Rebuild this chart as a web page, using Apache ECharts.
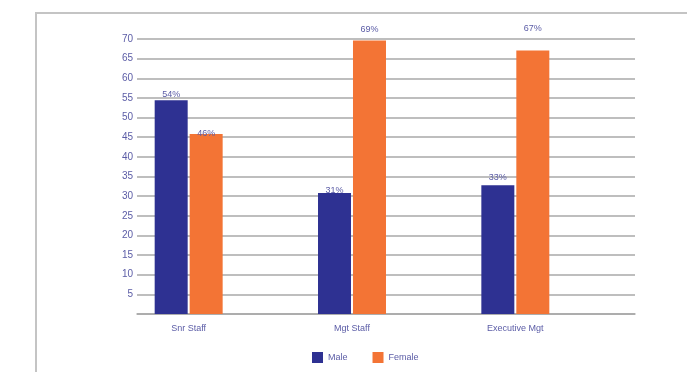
<!DOCTYPE html>
<html><head><meta charset="utf-8">
<script src="https://cdn.jsdelivr.net/npm/echarts@6/dist/echarts.min.js"></script>
<style>html,body{margin:0;padding:0;background:#fff}#c{width:687px;height:372px}</style>
</head><body><div id="c"></div>
<script>
const categories = ['Snr Staff', 'Mgt Staff', 'Executive Mgt'];
const maleValues = [54.4, 30.8, 32.8];
const femaleValues = [45.8, 69.6, 67.1];
const maleLabels = ['54%', '31%', '33%'];
const femaleLabels = ['46%', '69%', '67%'];
const seriesNames = ['Male', 'Female'];
const yTicks = [5, 10, 15, 20, 25, 30, 35, 40, 45, 50, 55, 60, 65, 70];

const txt = '#5b5ca6';
const font = '"Liberation Sans", Arial, sans-serif';
const chart = echarts.init(document.getElementById('c'), null, {renderer: 'canvas'});

function lbl(texts, off) {
  return {show: true, position: 'top', distance: 1, offset: [0, off || 0], color: txt, fontSize: 9, fontFamily: font,
    formatter: p => texts[p.dataIndex]};
}
const femaleOffsets = [5, -6, -16];
const maleOffsets = [0, 3, -2];
const femaleData = femaleValues.map((v, i) => ({value: v, label: lbl(femaleLabels, femaleOffsets[i])}));
const maleData = maleValues.map((v, i) => ({value: v, label: lbl(maleLabels, maleOffsets[i])}));

chart.setOption({
  animation: false,
  graphic: [{type: 'rect', shape: {x: 36, y: 13, width: 700, height: 400}, style: {fill: 'none', stroke: '#c4c4c4', lineWidth: 2}, z: -1}],
  grid: [
    {left: 137, right: 52, top: 39, bottom: 58},
    {left: 107, width: 490, top: 39, bottom: 58}
  ],
  xAxis: [
    {type: 'category', gridIndex: 0, data: categories, axisLabel: {show: false}, axisTick: {show: false},
      axisLine: {show: true, lineStyle: {color: '#a8a8a8', width: 1.5}}},
    {type: 'category', gridIndex: 1, data: categories, axisLine: {show: false}, axisTick: {show: false},
      axisLabel: {color: txt, fontSize: 9, fontFamily: font, margin: 10}}
  ],
  yAxis: [
    {type: 'value', gridIndex: 0, min: 0, max: 70, interval: 5,
      axisLabel: {color: txt, fontSize: 10, fontFamily: font, margin: 4,
        formatter: v => yTicks.includes(v) ? String(v) : ''},
      axisLine: {show: false}, axisTick: {show: false},
      splitLine: {show: true, lineStyle: {color: '#a8a8a8', width: 1.5}}},
    {type: 'value', gridIndex: 1, min: 0, max: 70, show: false, splitLine: {show: false}}
  ],
  legend: {top: 352, left: 312, itemWidth: 11, itemHeight: 11, itemGap: 25, icon: 'rect', padding: 0,
    textStyle: {color: txt, fontSize: 9, fontFamily: font}, data: seriesNames},
  series: [
    {name: seriesNames[0], type: 'bar', xAxisIndex: 1, yAxisIndex: 1, data: maleData, barWidth: 33, barGap: '6%',
      itemStyle: {color: '#2e3192'}},
    {name: seriesNames[1], type: 'bar', xAxisIndex: 1, yAxisIndex: 1, data: femaleData, barWidth: 33, barGap: '6%',
      itemStyle: {color: '#f37435'}}
  ]
});
</script></body></html>
